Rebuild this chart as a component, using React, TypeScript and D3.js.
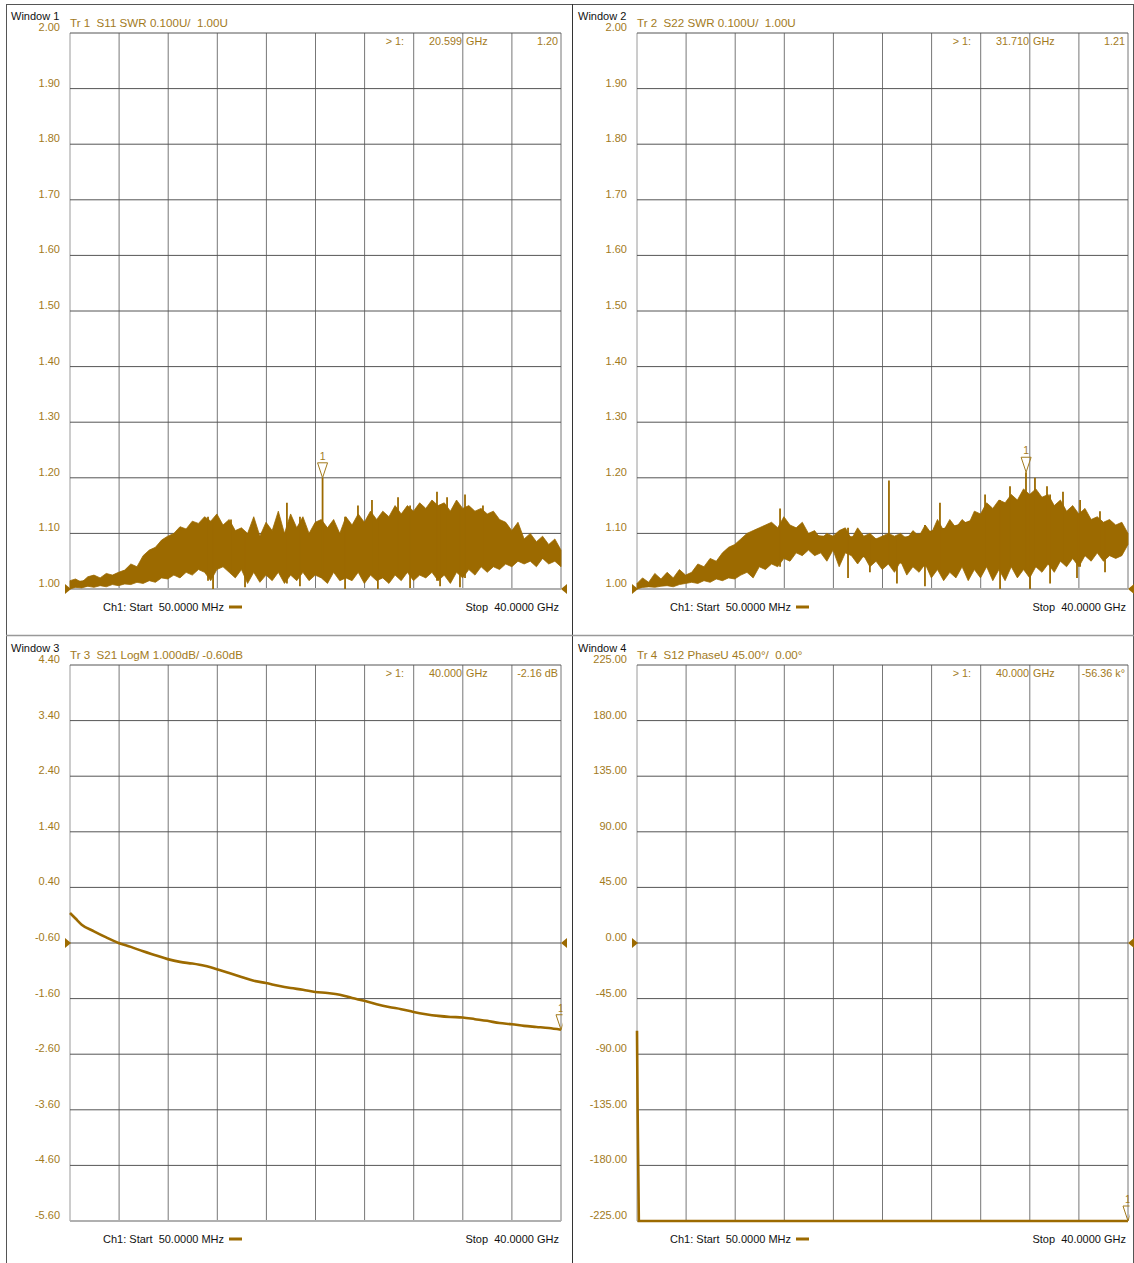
import React from "react";
import * as d3 from "d3";

// ---------- data ----------
const START_GHZ = 0.05;
const STOP_GHZ = 40;

// sweep columns used for the noisy SWR traces (GHz)
const FREQ_GHZ = [
  0.05, 0.5, 1, 1.5, 2, 2.5, 3, 3.5, 4, 4.5, 5, 5.5, 6, 6.5, 7, 7.5, 8, 8.5, 9, 9.5,
  10, 10.5, 11, 11.5, 12, 12.5, 13, 13.5, 14, 14.5, 15, 15.5, 16, 16.5, 17, 17.5, 18, 18.5, 19, 19.5,
  20, 20.5, 21, 21.5, 22, 22.5, 23, 23.5, 24, 24.5, 25, 25.5, 26, 26.5, 27, 27.5, 28, 28.5, 29, 29.5,
  30, 30.5, 31, 31.5, 32, 32.5, 33, 33.5, 34, 34.5, 35, 35.5, 36, 36.5, 37, 37.5, 38, 38.5, 39, 39.5, 40,
];
// coarser columns for the solid core of the noise band (GHz)
const CORE_GHZ = [0.05, 2, 4, 6, 8, 10, 12, 14, 16, 18, 20, 22, 24, 26, 28, 30, 32, 34, 36, 38, 40];

// S11 SWR: upper / lower envelope of the noisy trace
const S11_HI = [
  1.015, 1.018, 1.012, 1.022, 1.025, 1.02, 1.028, 1.025, 1.03, 1.034, 1.045, 1.04, 1.06, 1.07, 1.075, 1.088, 1.095, 1.1, 1.112, 1.108,
  1.122, 1.118, 1.13, 1.122, 1.135, 1.115, 1.125, 1.105, 1.11, 1.1, 1.13, 1.095, 1.12, 1.105, 1.14, 1.1, 1.135, 1.11, 1.13, 1.1,
  1.12, 1.125, 1.11, 1.125, 1.1, 1.13, 1.115, 1.135, 1.12, 1.14, 1.125, 1.14, 1.13, 1.15, 1.135, 1.15, 1.14, 1.155, 1.145, 1.16,
  1.15, 1.155, 1.14, 1.16, 1.145, 1.15, 1.14, 1.145, 1.135, 1.14, 1.125, 1.12, 1.105, 1.12, 1.09, 1.1, 1.085, 1.095, 1.08, 1.09, 1.07,
];
const S11_LO = [
  1.0, 1.003, 1.002, 1.005, 1.003, 1.006, 1.004, 1.008, 1.006, 1.009, 1.008, 1.012, 1.01, 1.015, 1.012, 1.02, 1.018, 1.025, 1.02, 1.03,
  1.025, 1.035, 1.03, 1.015, 1.035, 1.04, 1.03, 1.02, 1.035, 1.01, 1.03, 1.012, 1.025, 1.015, 1.03, 1.01, 1.025, 1.015, 1.03, 1.015,
  1.025, 1.02, 1.01, 1.03, 1.015, 1.02, 1.015, 1.03, 1.01, 1.025, 1.015, 1.02, 1.01, 1.025, 1.015, 1.03, 1.015, 1.025, 1.02, 1.03,
  1.015, 1.025, 1.01, 1.03, 1.02, 1.035, 1.025, 1.04, 1.03, 1.04, 1.035, 1.045, 1.04, 1.05, 1.045, 1.05, 1.04, 1.055, 1.045, 1.05, 1.04,
];
const S11_CORE_HI = [1.012, 1.018, 1.022, 1.04, 1.075, 1.1, 1.105, 1.1, 1.095, 1.1, 1.1, 1.1, 1.105, 1.115, 1.12, 1.125, 1.12, 1.11, 1.095, 1.08, 1.065];
const S11_CORE_LO = [1.002, 1.006, 1.01, 1.015, 1.03, 1.045, 1.05, 1.045, 1.04, 1.04, 1.04, 1.04, 1.04, 1.04, 1.04, 1.04, 1.045, 1.05, 1.055, 1.055, 1.05];
const S11_UP_GHZ = [11.28, 13.15, 17.7, 20.6, 23.48, 24.62, 26.74, 29.91, 30.73, 32.19, 33.65];
const S11_UP_SWR = [1.13, 1.125, 1.155, 1.2, 1.15, 1.16, 1.165, 1.175, 1.165, 1.17, 1.15];
const S11_DOWN_GHZ = [11.69, 14.29, 18.76, 22.43, 25.1, 27.72, 30.16, 31.78];
const S11_DOWN_SWR = [1.0, 1.003, 1.005, 1.0, 1.0, 1.002, 1.005, 1.003];

// S22 SWR
const S22_HI = [
  1.01, 1.02, 1.012, 1.028, 1.018, 1.03, 1.02, 1.035, 1.025, 1.03, 1.045, 1.04, 1.055, 1.05, 1.065, 1.075, 1.08, 1.09, 1.1, 1.105,
  1.11, 1.115, 1.12, 1.11, 1.13, 1.115, 1.11, 1.12, 1.1, 1.105, 1.09, 1.1, 1.095, 1.105, 1.11, 1.09, 1.11, 1.095, 1.1, 1.09,
  1.095, 1.1, 1.095, 1.1, 1.09, 1.105, 1.095, 1.115, 1.1, 1.125, 1.105, 1.125, 1.11, 1.125, 1.115, 1.14, 1.135, 1.155, 1.145, 1.16,
  1.155, 1.17, 1.16, 1.18, 1.17, 1.18, 1.165, 1.17, 1.15, 1.16, 1.14, 1.15, 1.135, 1.145, 1.125, 1.13, 1.12, 1.125, 1.115, 1.12, 1.1,
];
const S22_LO = [
  1.0, 1.003, 1.004, 1.003, 1.005, 1.006, 1.004, 1.008, 1.01, 1.012, 1.01, 1.015, 1.012, 1.018, 1.015, 1.02, 1.018, 1.025, 1.03, 1.02,
  1.04, 1.035, 1.045, 1.04, 1.055, 1.05, 1.065, 1.06, 1.07, 1.06, 1.065, 1.05, 1.07, 1.04, 1.065, 1.06, 1.045, 1.06, 1.04, 1.05,
  1.035, 1.045, 1.03, 1.05, 1.025, 1.04, 1.03, 1.045, 1.02, 1.035, 1.015, 1.03, 1.02, 1.04, 1.015, 1.035, 1.02, 1.04, 1.015, 1.035,
  1.015, 1.04, 1.02, 1.035, 1.02, 1.04, 1.03, 1.045, 1.03, 1.05, 1.04, 1.055, 1.04, 1.06, 1.05, 1.065, 1.05, 1.06, 1.055, 1.06, 1.08,
];
const S22_CORE_HI = [1.01, 1.015, 1.022, 1.04, 1.065, 1.095, 1.11, 1.1, 1.095, 1.095, 1.09, 1.095, 1.105, 1.115, 1.13, 1.145, 1.155, 1.145, 1.13, 1.115, 1.1];
const S22_CORE_LO = [1.002, 1.006, 1.012, 1.018, 1.03, 1.045, 1.06, 1.07, 1.07, 1.06, 1.05, 1.045, 1.04, 1.04, 1.045, 1.045, 1.05, 1.055, 1.065, 1.07, 1.08];
const S22_UP_GHZ = [11.69, 20.55, 24.7, 28.37, 30.4, 31.7, 32.43, 33.41, 34.71, 36.1, 37.72];
const S22_UP_SWR = [1.145, 1.195, 1.155, 1.17, 1.185, 1.21, 1.2, 1.185, 1.175, 1.16, 1.14];
const S22_DOWN_GHZ = [17.22, 19.0, 21.2, 23.48, 29.59, 32.03, 33.66, 35.85, 38.13];
const S22_DOWN_SWR = [1.02, 1.03, 1.01, 1.005, 1.0, 1.0, 1.01, 1.02, 1.03];

// S21 LogM (dB)
const S21_GHZ = [
  0.05, 0.5, 1, 2, 3, 4, 5, 6, 7, 8, 9, 10, 11, 12, 13, 14, 15, 16, 17, 18, 19, 20,
  21, 22, 23, 24, 25, 26, 27, 28, 29, 30, 31, 32, 33, 34, 35, 36, 37, 38, 39, 40,
];
const S21_DB = [
  -0.06, -0.16, -0.27, -0.39, -0.5, -0.6, -0.67, -0.75, -0.82, -0.89, -0.94, -0.97, -1.01, -1.07, -1.14, -1.21, -1.28, -1.32, -1.37, -1.41, -1.44, -1.48,
  -1.5, -1.53, -1.59, -1.64, -1.7, -1.75, -1.79, -1.84, -1.88, -1.91, -1.93, -1.94, -1.97, -2.0, -2.04, -2.06, -2.09, -2.11, -2.13, -2.16,
];

// S12 unwrapped phase (degrees)
const S12_GHZ = [0.05, 0.1, 0.2, 0.5, 10, 20, 30, 40];
const S12_DEG = [-71, -135, -260, -700, -14100, -28200, -42300, -56360];

// tick labels
const SWR_TICKS = ["2.00", "1.90", "1.80", "1.70", "1.60", "1.50", "1.40", "1.30", "1.20", "1.10", "1.00"];
const LOGM_TICKS = ["4.40", "3.40", "2.40", "1.40", "0.40", "-0.60", "-1.60", "-2.60", "-3.60", "-4.60", "-5.60"];
const PHASE_TICKS = ["225.00", "180.00", "135.00", "90.00", "45.00", "0.00", "-45.00", "-90.00", "-135.00", "-180.00", "-225.00"];

// texts
const WINDOW_NAMES = ["Window 1", "Window 2", "Window 3", "Window 4"];
const TRACE_TITLES = [
  "Tr 1  S11 SWR 0.100U/  1.00U",
  "Tr 2  S22 SWR 0.100U/  1.00U",
  "Tr 3  S21 LogM 1.000dB/ -0.60dB",
  "Tr 4  S12 PhaseU 45.00°/  0.00°",
];
const MARKER_FREQ_TEXT = ["20.599", "31.710", "40.000", "40.000"];
const MARKER_VALUE_TEXT = ["1.20", "1.21", "-2.16 dB", "-56.36 k°"];
const MARKER_GHZ = [20.599, 31.71, 40, 40];
const MARKER_VAL = [1.2, 1.21, -2.16, -56360];
const REF_LEVELS = [1.0, 1.0, -0.6, 0.0];
const START_TEXT = "Ch1: Start  50.0000 MHz";
const STOP_TEXT = "Stop  40.0000 GHz";

// ---------- style ----------
const TRACE = "#9c6a00";
const LABEL = "#a27a1c";
const FONT = "'Liberation Sans', Arial, Helvetica, sans-serif";
const W = 491;
const H = 556;

type Scale = d3.ScaleLinear<number, number>;
type PanelProps = {
  idx: number;
  gx: number;
  gy: number;
  ticks: string[];
  children: (x: Scale, y: Scale) => React.ReactNode;
};

function Panel({ idx, gx, gy, ticks, children }: PanelProps) {
  const vals = ticks.map(Number);
  const x = d3.scaleLinear().domain([START_GHZ, STOP_GHZ]).range([gx, gx + W]);
  const y = d3
    .scaleLinear()
    .domain([vals[vals.length - 1], vals[0]])
    .range([gy + H, gy])
    .clamp(true);
  const vgrid = d3.range(11).map((i) => START_GHZ + (i * (STOP_GHZ - START_GHZ)) / 10);
  const mx = x(MARKER_GHZ[idx]);
  const my = y(MARKER_VAL[idx]);
  const yr = y(REF_LEVELS[idx]);
  const clipId = `clip${idx}`;
  return (
    <g fontFamily={FONT}>
      <defs>
        <clipPath id={clipId}>
          <rect x={gx - 2} y={gy - 40} width={W + 3.5} height={H + 44} />
        </clipPath>
      </defs>
      {/* header */}
      <text x={gx - 59} y={gy - 13} fontSize={11} fill="#111">
        {WINDOW_NAMES[idx]}
      </text>
      <text x={gx} y={gy - 6} fontSize={11.6} fill={LABEL} style={{ whiteSpace: "pre" }}>
        {TRACE_TITLES[idx]}
      </text>
      {/* grid */}
      {vgrid.map((f, i) => (
        <line key={"v" + i} x1={x(f)} x2={x(f)} y1={gy} y2={gy + H} stroke={i === 0 ? "#9a9a9a" : "#777"} strokeWidth={1} />
      ))}
      {vals.map((v, i) => (
        <line
          key={"h" + i}
          x1={gx}
          x2={gx + W}
          y1={y(v)}
          y2={y(v)}
          stroke={i === vals.length - 1 ? "#b0b0b0" : "#555"}
          strokeWidth={i === vals.length - 1 ? 2 : 1}
        />
      ))}
      {ticks.map((t, i) => (
        <text key={"t" + i} x={gx - 10} y={y(vals[i]) - 2} fontSize={11} fill={LABEL} textAnchor="end">
          {t}
        </text>
      ))}
      {/* marker readout */}
      <text x={gx + 334} y={gy + 12} fontSize={10.8} fill={LABEL} textAnchor="end">
        {"> 1:"}
      </text>
      <text x={gx + 392} y={gy + 12} fontSize={10.8} fill={LABEL} textAnchor="end">
        {MARKER_FREQ_TEXT[idx]}
      </text>
      <text x={gx + 396} y={gy + 12} fontSize={10.8} fill={LABEL}>
        GHz
      </text>
      <text x={gx + 488} y={gy + 12} fontSize={10.8} fill={LABEL} textAnchor="end">
        {MARKER_VALUE_TEXT[idx]}
      </text>
      {/* trace */}
      <g clipPath={`url(#${clipId})`}>{children(x, y)}</g>
      {/* reference arrows */}
      <path d={`M${gx - 5},${yr - 5}L${gx + 1},${yr}L${gx - 5},${yr + 5}Z`} fill={TRACE} />
      <path d={`M${gx + W + 6},${yr - 5}L${gx + W},${yr}L${gx + W + 6},${yr + 5}Z`} fill={TRACE} />
      {/* marker */}
      <g clipPath={`url(#${clipId})`}>
        <path d={`M${mx - 5},${my - 15}L${mx + 5},${my - 15}L${mx},${my}Z`} fill="none" stroke={LABEL} strokeWidth={1} />
        <text x={mx} y={my - 18} fontSize={10.5} fill={LABEL} textAnchor="middle">
          1
        </text>
      </g>
      {/* footer */}
      <text x={gx + 33} y={gy + H + 22} fontSize={11} fill="#111" style={{ whiteSpace: "pre" }}>
        {START_TEXT}
      </text>
      <rect x={gx + 159} y={gy + H + 16.5} width={13} height={3} fill={TRACE} />
      <text x={gx + 489} y={gy + H + 22} fontSize={11} fill="#111" textAnchor="end" style={{ whiteSpace: "pre" }}>
        {STOP_TEXT}
      </text>
    </g>
  );
}

type NoisyProps = {
  x: Scale;
  y: Scale;
  hi: number[];
  lo: number[];
  coreHi: number[];
  coreLo: number[];
  upF: number[];
  upV: number[];
  downF: number[];
  downV: number[];
};

function NoisyTrace({ x, y, hi, lo, coreHi, coreLo, upF, upV, downF, downV }: NoisyProps) {
  const core = d3
    .area<number>()
    .x((_, i) => x(CORE_GHZ[i]))
    .y0((_, i) => y(coreLo[i]))
    .y1((d) => y(d))
    .curve(d3.curveMonotoneX);
  const band = d3
    .area<number>()
    .x((_, i) => x(FREQ_GHZ[i]))
    .y0((_, i) => y(lo[i]))
    .y1((d) => y(d));
  return (
    <g>
      <path d={core(coreHi) || ""} fill={TRACE} />
      <path d={band(hi) || ""} fill={TRACE} stroke={TRACE} strokeWidth={0.8} />
      {upF.map((f, i) => {
        const j = d3.bisectCenter(FREQ_GHZ, f);
        return <line key={"u" + i} x1={x(f)} x2={x(f)} y1={y(lo[j])} y2={y(upV[i])} stroke={TRACE} strokeWidth={1.8} />;
      })}
      {downF.map((f, i) => {
        const j = d3.bisectCenter(FREQ_GHZ, f);
        return <line key={"d" + i} x1={x(f)} x2={x(f)} y1={y(hi[j])} y2={y(downV[i])} stroke={TRACE} strokeWidth={1.8} />;
      })}
    </g>
  );
}

export default function App() {
  return (
    <svg
      width={1134}
      height={1263}
      viewBox="0 0 1134 1263"
      style={{ position: "absolute", left: 0, top: 0, background: "#fff" }}
    >
      <rect x={0} y={0} width={1134} height={1263} fill="#fff" />
      {/* window frames */}
      <line x1={6} x2={1134} y1={4.5} y2={4.5} stroke="#555" strokeWidth={1} />
      <line x1={6.5} x2={6.5} y1={4} y2={1263} stroke="#555" strokeWidth={1} />
      <line x1={572.5} x2={572.5} y1={4} y2={1263} stroke="#333" strokeWidth={1} />
      <line x1={1133.5} x2={1133.5} y1={4} y2={1263} stroke="#555" strokeWidth={1} />
      <line x1={6} x2={1134} y1={635.5} y2={635.5} stroke="#999" strokeWidth={1.5} />

      <Panel idx={0} gx={70} gy={33} ticks={SWR_TICKS}>
        {(x, y) => (
          <NoisyTrace
            x={x}
            y={y}
            hi={S11_HI}
            lo={S11_LO}
            coreHi={S11_CORE_HI}
            coreLo={S11_CORE_LO}
            upF={S11_UP_GHZ}
            upV={S11_UP_SWR}
            downF={S11_DOWN_GHZ}
            downV={S11_DOWN_SWR}
          />
        )}
      </Panel>
      <Panel idx={1} gx={637} gy={33} ticks={SWR_TICKS}>
        {(x, y) => (
          <NoisyTrace
            x={x}
            y={y}
            hi={S22_HI}
            lo={S22_LO}
            coreHi={S22_CORE_HI}
            coreLo={S22_CORE_LO}
            upF={S22_UP_GHZ}
            upV={S22_UP_SWR}
            downF={S22_DOWN_GHZ}
            downV={S22_DOWN_SWR}
          />
        )}
      </Panel>
      <Panel idx={2} gx={70} gy={665} ticks={LOGM_TICKS}>
        {(x, y) => {
          const line = d3
            .line<number>()
            .x((_, i) => x(S21_GHZ[i]))
            .y((d) => y(d))
            .curve(d3.curveMonotoneX);
          return <path d={line(S21_DB) || ""} fill="none" stroke={TRACE} strokeWidth={2.6} />;
        }}
      </Panel>
      <Panel idx={3} gx={637} gy={665} ticks={PHASE_TICKS}>
        {(x, y) => {
          const line = d3
            .line<number>()
            .x((_, i) => x(S12_GHZ[i]))
            .y((d) => y(d));
          return <path d={line(S12_DEG) || ""} fill="none" stroke={TRACE} strokeWidth={2.6} />;
        }}
      </Panel>
    </svg>
  );
}
